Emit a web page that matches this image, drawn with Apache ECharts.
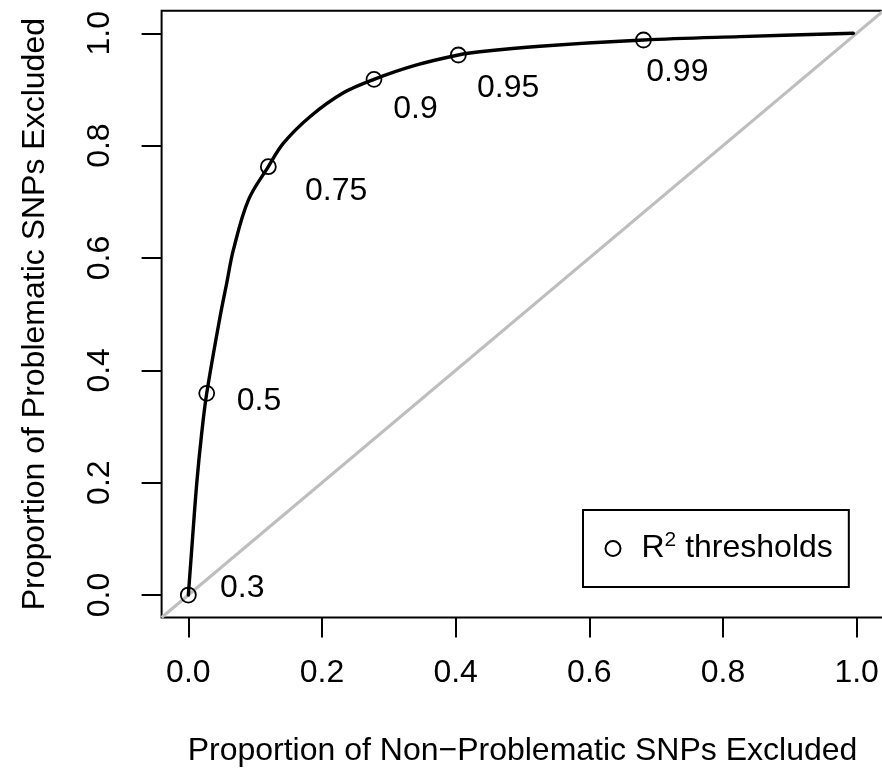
<!DOCTYPE html>
<html><head><meta charset="utf-8">
<script src="https://cdn.jsdelivr.net/npm/echarts@6/dist/echarts.min.js"></script>
<style>html,body{margin:0;padding:0;background:#fff}#c{width:882px;height:771px}</style>
</head><body><div id="c"></div>
<script>
// ---- data ----
const curveX = [0, 0.005, 0.0126, 0.020, 0.0275, 0.0474, 0.0574, 0.0673, 0.0898, 0.1197, 0.142, 0.182, 0.232, 0.2778, 0.3417, 0.404, 0.436, 0.526, 0.681, 0.825, 0.995];
const curveY = [0, 0.080, 0.199, 0.288, 0.359, 0.495, 0.555, 0.614, 0.703, 0.7625, 0.804, 0.8515, 0.894, 0.918, 0.9436, 0.9613, 0.967, 0.977, 0.988, 0.994, 1.0];
const thresholdNames = ['0.3', '0.5', '0.75', '0.9', '0.95', '0.99'];
const thresholdX = [0, 0.0275, 0.1197, 0.2778, 0.404, 0.681];
const thresholdY = [0, 0.359, 0.7625, 0.918, 0.9613, 0.988];
const tickValues = [0, 0.2, 0.4, 0.6, 0.8, 1.0];
const tickLabels = ['0.0', '0.2', '0.4', '0.6', '0.8', '1.0'];
const axisRange = [-0.04, 1.04];
const xTitle = 'Proportion of Non\u2212Problematic SNPs Excluded';
const yTitle = 'Proportion of Problematic SNPs Excluded';
const legendLabel = 'R2 thresholds';

// label placement offsets (px) relative to each threshold point
const labelOffsets = [[31.7, -7], [30, 7.6], [36.7, 24.3], [19.3, 29.7], [18.7, 33], [2.7, 31.7]];

const FONT = 'Liberation Sans, Arial, Helvetica, sans-serif';
const FS = 32;

function tickLabel(v) {
  for (let i = 0; i < tickValues.length; i++) if (Math.abs(tickValues[i] - v) < 1e-6) return tickLabels[i];
  return '';
}

const chart = echarts.init(document.getElementById('c'), null, { renderer: 'canvas' });

const axisCommon = {
  type: 'value',
  min: axisRange[0],
  max: axisRange[1],
  nameLocation: 'middle',
  nameTextStyle: { fontFamily: FONT, fontSize: FS, color: '#000', verticalAlign: 'middle' },
  axisLine: { show: false, onZero: false },
  splitLine: { show: false },
  axisTick: { show: true, inside: false, length: 20, customValues: tickValues, lineStyle: { color: '#000', width: 2 } },
};

const option = {
  backgroundColor: '#fff',
  animation: false,
  grid: {
    left: 161.6, top: 10.8, width: 721.8, height: 606.7,
    show: true, borderColor: '#000', borderWidth: 2, backgroundColor: 'transparent',
    containLabel: false, outerBoundsMode: 'none'
  },
  xAxis: Object.assign({}, axisCommon, {
    name: xTitle,
    nameGap: 134,
    axisLabel: {
      customValues: tickValues, formatter: tickLabel, margin: 56,
      fontFamily: FONT, fontSize: FS, color: '#000', verticalAlign: 'middle', align: 'center'
    }
  }),
  yAxis: Object.assign({}, axisCommon, {
    name: yTitle,
    nameGap: 126,
    nameRotate: 90,
    axisLabel: {
      customValues: tickValues, formatter: tickLabel, margin: 61, rotate: 90,
      fontFamily: FONT, fontSize: FS, color: '#000', verticalAlign: 'middle', align: 'center'
    }
  }),
  legend: {
    data: [legendLabel],
    left: 583, top: 510,
    padding: [20, 16, 20, 21.5],
    borderColor: '#000', borderWidth: 2,
    itemWidth: 15, itemHeight: 15,
    selectedMode: false,
    formatter: function () { return '{g|}{r|R}{s|2}{r| thresholds}'; },
    textStyle: {
      fontFamily: FONT, fontSize: FS, color: '#000',
      rich: {
        g: { width: 16 },
        r: { fontFamily: FONT, fontSize: FS, color: '#000' },
        s: { fontFamily: FONT, fontSize: 21, lineHeight: 21, padding: [0, 0, 16, 0], color: '#000' }
      }
    }
  },
  series: [
    {
      type: 'line', name: 'diagonal', silent: true, symbol: 'none', z: 1,
      data: [[axisRange[0], axisRange[0]], [axisRange[1], axisRange[1]]],
      lineStyle: { color: '#bebebe', width: 3 }
    },
    {
      type: 'line', name: 'curve', silent: true, symbol: 'none', z: 2,
      smooth: 0.35,
      data: curveX.map((x, i) => [x, curveY[i]]),
      lineStyle: { color: '#000', width: 3.4, cap: 'round', join: 'round' }
    },
    {
      type: 'scatter', name: legendLabel, z: 3,
      symbol: 'circle', symbolSize: 15,
      itemStyle: { color: 'rgba(0,0,0,0)', borderColor: '#000', borderWidth: 1.8, opacity: 1 },
      emphasis: { disabled: true },
      data: thresholdX.map((x, i) => ({
        value: [x, thresholdY[i]],
        name: thresholdNames[i],
        label: {
          show: true, formatter: thresholdNames[i], position: 'inside',
          align: 'left', verticalAlign: 'middle', offset: labelOffsets[i],
          fontFamily: FONT, fontSize: FS, color: '#000', opacity: 1
        }
      }))
    }
  ]
};
chart.setOption(option);
</script>
</body></html>
